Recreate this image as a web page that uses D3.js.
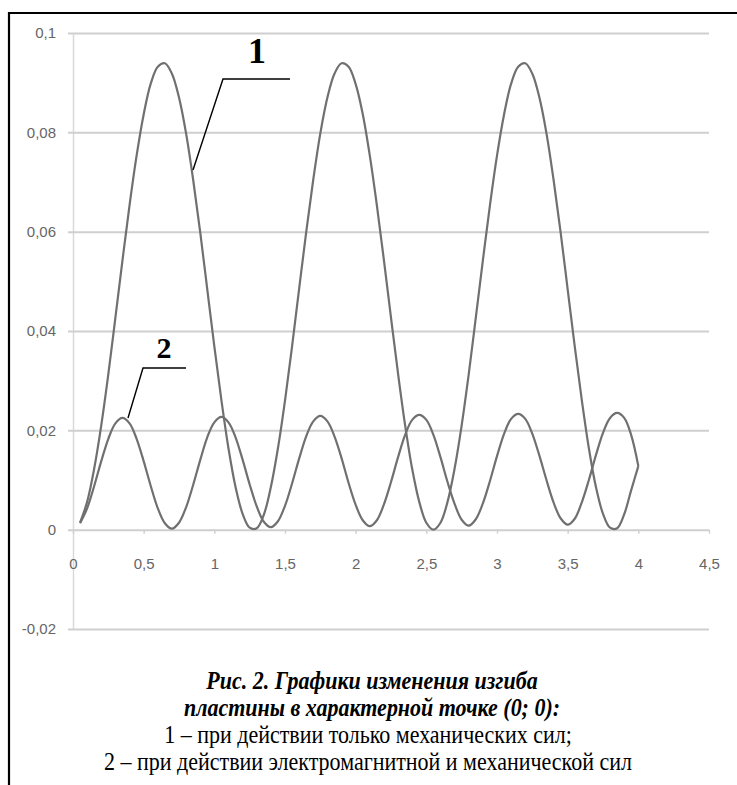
<!DOCTYPE html>
<html><head><meta charset="utf-8">
<script src="https://cdn.jsdelivr.net/npm/d3@7"></script>
<style>body{margin:0;background:#fff}svg{display:block}</style>
</head><body>
<svg id="c" width="737" height="785"></svg>
<script>
const xTicks = [0,0.5,1,1.5,2,2.5,3,3.5,4,4.5];
const yTicks = [-0.02,0,0.02,0.04,0.06,0.08,0.1];
const xValues = [0.05,0.10,0.15,0.20,0.25,0.30,0.35,0.40,0.45,0.50,0.55,0.60,0.65,0.70,0.75,0.80,0.85,0.90,0.95,1.00,
 1.05,1.10,1.15,1.20,1.25,1.30,1.35,1.40,1.45,1.50,1.55,1.60,1.65,1.70,1.75,1.80,1.85,1.90,1.95,2.00,
 2.05,2.10,2.15,2.20,2.25,2.30,2.35,2.40,2.45,2.50,2.55,2.60,2.65,2.70,2.75,2.80,2.85,2.90,2.95,3.00,
 3.05,3.10,3.15,3.20,3.25,3.30,3.35,3.40,3.45,3.50,3.55,3.60,3.65,3.70,3.75,3.80,3.85,3.90,3.95,4.00];
// curve 1: only mechanical forces
const series1 = [0.0014,0.0056,0.0123,0.0210,0.0313,0.0427,0.0542,0.0653,0.0753,0.0836,0.0898,0.0932,0.0939,0.0918,0.0870,0.0798,0.0705,0.0599,0.0484,0.0369,
 0.0261,0.0164,0.0086,0.0032,0.0004,0.0003,0.0030,0.0086,0.0164,0.0260,0.0369,0.0485,0.0599,0.0705,0.0798,0.0870,0.0918,0.0939,0.0932,0.0897,
 0.0837,0.0753,0.0653,0.0542,0.0427,0.0314,0.0210,0.0122,0.0056,0.0014,0.0000,0.0014,0.0056,0.0123,0.0210,0.0313,0.0427,0.0542,0.0653,0.0753,
 0.0836,0.0898,0.0932,0.0939,0.0918,0.0870,0.0798,0.0705,0.0599,0.0484,0.0369,0.0261,0.0164,0.0086,0.0032,0.0004,0.0003,0.0031,0.0080,0.0128];
// curve 2: electromagnetic and mechanical forces
const series2 = [0.0013,0.0043,0.0088,0.0138,0.0183,0.0214,0.0225,0.0214,0.0183,0.0138,0.0088,0.0043,0.0013,0.0002,0.0014,0.0045,0.0090,0.0140,0.0186,0.0216,
 0.0227,0.0216,0.0186,0.0141,0.0091,0.0047,0.0016,0.0005,0.0017,0.0048,0.0093,0.0143,0.0188,0.0218,0.0229,0.0218,0.0188,0.0144,0.0094,0.0050,
 0.0019,0.0007,0.0019,0.0051,0.0096,0.0146,0.0191,0.0221,0.0231,0.0221,0.0191,0.0146,0.0096,0.0052,0.0020,0.0008,0.0021,0.0053,0.0098,0.0148,
 0.0193,0.0223,0.0233,0.0223,0.0193,0.0149,0.0100,0.0055,0.0023,0.0010,0.0022,0.0055,0.0100,0.0150,0.0195,0.0225,0.0235,0.0225,0.0190,0.0128];
const captionTitle = ["Рис. 2. Графики изменения изгиба","пластины в характерной точке (0; 0):"];
const captionLines = ["1 – при действии только механических сил;","2 – при действии электромагнитной и механической сил"];
const seriesLabels = ["1","2"];

const svg = d3.select("#c");
const x = d3.scaleLinear().domain([0,4.5]).range([73,709]);
const y = d3.scaleLinear().domain([-0.02,0.1]).range([629,33]);
const fmt = v => String(+v.toFixed(2)).replace(".", ",");

// frame
svg.append("path").attr("d","M9,785 V13 H737").attr("fill","none").attr("stroke","#000").attr("stroke-width",2.2);

// grid
const gy = svg.append("g")
  .attr("transform","translate(73,0)")
  .call(d3.axisLeft(y).tickValues(yTicks).tickSize(-636).tickSizeOuter(0).tickPadding(17).tickFormat(fmt));
gy.select(".domain").attr("stroke","#d9d9d9").attr("stroke-width",1.5);
gy.selectAll(".tick line").attr("stroke","#cfcfcf").attr("stroke-width",2).attr("x1",-5);
gy.selectAll(".tick text").attr("fill","#666").attr("font-family","Liberation Sans, Arial, sans-serif").attr("font-size",15);

const gx = svg.append("g")
  .attr("transform",`translate(0,${y(0)})`)
  .call(d3.axisBottom(x).tickValues(xTicks).tickSize(4).tickSizeOuter(0).tickPadding(25).tickFormat(fmt));
gx.select(".domain").remove();
gx.selectAll(".tick line").attr("stroke","#d0d0d0").attr("stroke-width",1.5);
gx.selectAll(".tick text").attr("fill","#666").attr("font-family","Liberation Sans, Arial, sans-serif").attr("font-size",15);

// curves
const line = d3.line().x(d=>x(d[0])).y(d=>y(d[1])).curve(d3.curveCatmullRom.alpha(0.5));
[series1, series2].forEach(s=>{
  svg.append("path").datum(xValues.map((v,i)=>[v,s[i]]))
    .attr("d",line).attr("fill","none").attr("stroke","#707070").attr("stroke-width",2.2);
});

// leader labels
svg.append("path").attr("d","M290,79 H223 L193,170").attr("fill","none").attr("stroke","#000").attr("stroke-width",1.4);
svg.append("text").attr("x",257).attr("y",63).attr("text-anchor","middle")
  .attr("font-family","Liberation Serif, Times New Roman, serif").attr("font-weight","bold").attr("font-size",36).text(seriesLabels[0]);
svg.append("path").attr("d","M186,368 H143 L128,418").attr("fill","none").attr("stroke","#000").attr("stroke-width",1.4);
svg.append("text").attr("x",164).attr("y",358).attr("text-anchor","middle")
  .attr("font-family","Liberation Serif, Times New Roman, serif").attr("font-weight","bold").attr("font-size",30).text(seriesLabels[1]);

// caption (slightly condensed, taller type as in the scan)
const cap = svg.append("g").attr("font-family","Liberation Serif, Times New Roman, serif").attr("font-size",25).attr("text-anchor","middle");
captionTitle.forEach((t,i)=>cap.append("text").attr("transform",`translate(372,${689+i*27}) scale(0.88,1)`)
  .attr("font-weight","bold").attr("font-style","italic").text(t));
captionLines.forEach((t,i)=>cap.append("text").attr("transform",`translate(368,${743+i*27}) scale(0.88,1)`).text(t));
</script>
</body></html>
